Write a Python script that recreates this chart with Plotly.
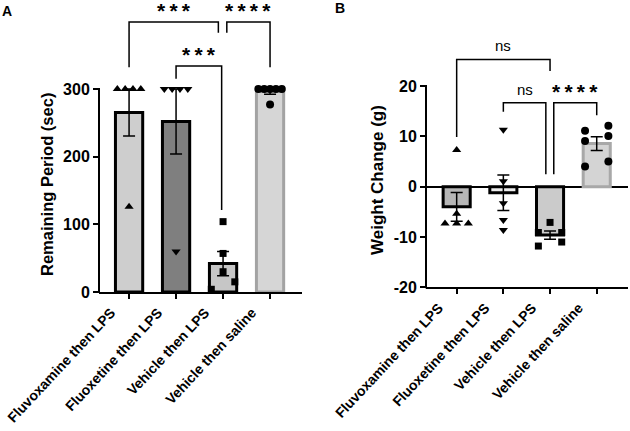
import numpy as np
import plotly.graph_objects as go

# ---------------- data ----------------
categories = ["Fluvoxamine then LPS", "Fluoxetine then LPS",
              "Vehicle then LPS", "Vehicle then saline"]

remaining_fluvoxamine = [300, 300, 300, 300, 126]
remaining_fluoxetine = [300, 300, 300, 300, 60]
remaining_vehicle_lps = [104, 57, 30, 15, 4]
remaining_vehicle_saline = [300, 300, 300, 300, 300, 277]

weight_fluvoxamine = [7.3, -5.4, -7.3, -7.3, -7.3]
weight_fluoxetine = [11.3, 1.1, -3.3, -6.6, -8.6]
weight_vehicle_lps = [-7.1, -9.1, -9.1, -11.8, -11.0]
weight_vehicle_saline = [11.1, 12.1, 9.1, 10.1, 4.0, 5.0]

yticks_A = [0, 100, 200, 300]
yticks_B = [-20, -10, 0, 10, 20]

# significance comparisons: (left cat, right cat, label)
sig_A = [(0, 2, "***"), (1, 2, "***"), (2, 3, "****")]
sig_B = [(0, 2, "ns"), (1, 2, "ns"), (2, 3, "****")]

# ---------------- styles / geometry ----------------
W, H = 630, 431
FONT = "Liberation Sans, Arial, sans-serif"
symbols = ["triangle-up", "triangle-down", "square", "circle"]
msizes = [8, 8, 7, 8]
fill_A = ["#cecece", "#7f7f7f", "#c6c6c6", "#d6d6d6"]
line_A = ["#000000", "#000000", "#000000", "#a3a3a3"]
fill_B = ["#b6b6b6", "#ececec", "#cbcbcb", "#d4d4d4"]
line_B = ["#000000", "#000000", "#000000", "#a8a8a8"]

# pixel boxes of the plot areas
A_x0, A_x1, A_ytop, A_ybot = 99, 302, 0, 292.0
B_x0, B_x1, B_ytop, B_ybot = 426, 628, 0, 287.3
A_yrange = [0, (A_ybot - A_ytop) / (203 / 300)]
B_yrange = [-20, -20 + (B_ybot - B_ytop) / (100.6 / 20)]
A_xrange = [-0.64, 3.68]
B_xrange = [-0.657, 3.67]

# bracket geometry: (x_left, x_right, y_top, y_left_end, y_right_end)
br_A = [(0, 1.90, 399, 332, 383), (1, 1.97, 334, 315, 121), (2.08, 3, 399, 383, 332)]
br_B = [(0, 2.0, 25.3, 9.9, 23.0), (1, 1.91, 16.7, 14.9, 2.5), (2.08, 3, 16.7, 2.5, 14.2)]


def px_x(p):
    return p / W


def px_y(p):
    return 1 - p / H


def swarm(values, center, ppu, thr_px=8.5, span=0.5):
    v = np.asarray(values, float)
    order = np.argsort(v, kind="stable")
    xs = np.full(len(v), float(center))
    groups, cur = [], []
    for idx in order:
        if cur and (v[idx] - v[cur[0]]) * ppu > thr_px:
            groups.append(cur)
            cur = []
        cur.append(idx)
    groups.append(cur)
    for g in groups:
        n = len(g)
        offs = np.linspace(-span / 2, span / 2, n) if n > 1 else [0.0]
        for k, idx in enumerate(g):
            xs[idx] = center + offs[k]
    return xs


fig = go.Figure()


def add_panel(groups, fills, lines, xa, ya, ppu):
    for i, vals in enumerate(groups):
        arr = np.asarray(vals, float)
        mean = arr.mean()
        sem = arr.std(ddof=1) / np.sqrt(len(arr))
        fig.add_trace(go.Bar(
            x=[i], y=[mean], width=0.58, xaxis=xa, yaxis=ya,
            marker=dict(color=fills[i], line=dict(color=lines[i], width=3)),
            error_y=dict(type="data", array=[sem], color="black", thickness=1.5, width=6),
            showlegend=False, hoverinfo="skip"))
    for i, vals in enumerate(groups):
        xs = swarm(vals, i, ppu)
        fig.add_trace(go.Scatter(
            x=xs, y=vals, mode="markers", xaxis=xa, yaxis=ya, cliponaxis=False,
            marker=dict(symbol=symbols[i], size=msizes[i], color="black"),
            showlegend=False, hoverinfo="skip"))


ppu_A = (A_ybot - A_ytop) / (A_yrange[1] - A_yrange[0])
ppu_B = (B_ybot - B_ytop) / (B_yrange[1] - B_yrange[0])

add_panel([remaining_fluvoxamine, remaining_fluoxetine, remaining_vehicle_lps,
           remaining_vehicle_saline], fill_A, line_A, "x", "y", ppu_A)
add_panel([weight_fluvoxamine, weight_fluoxetine, weight_vehicle_lps,
           weight_vehicle_saline], fill_B, line_B, "x2", "y2", ppu_B)

shapes = []
annos = []


def add_brackets(brs, sigs, xr, yr):
    for (xl, xr_, yt, yle, yre), (_, _, lab) in zip(brs, sigs):
        shapes.append(dict(type="path", xref=xr, yref=yr,
                           path=f"M {xl},{yle} L {xl},{yt} L {xr_},{yt} L {xr_},{yre}",
                           line=dict(color="black", width=1.5)))
        is_star = "*" in lab
        text = "<b>" + "\u2009".join(lab) + "</b>" if is_star else lab
        annos.append(dict(x=(xl + xr_) / 2, y=yt, xref=xr, yref=yr, text=text,
                          showarrow=False, xanchor="center", yanchor="bottom",
                          yshift=(-2 if is_star else 3),
                          font=dict(size=(21 if is_star else 15), color="black", family=FONT)))


add_brackets(br_A, sig_A, "x", "y")
add_brackets(br_B, sig_B, "x2", "y2")


# y-axis lines limited to the tick span
def val_to_px(v, ytop, ybot, yr):
    return ybot - (v - yr[0]) / (yr[1] - yr[0]) * (ybot - ytop)


for x0, ticks, ytop, ybot, yr in [(A_x0, yticks_A, A_ytop, A_ybot, A_yrange),
                                  (B_x0, yticks_B, B_ytop, B_ybot, B_yrange)]:
    shapes.append(dict(type="line", xref="paper", yref="paper",
                       x0=px_x(x0), x1=px_x(x0),
                       y0=px_y(val_to_px(ticks[0], ytop, ybot, yr) + 1),
                       y1=px_y(val_to_px(ticks[-1], ytop, ybot, yr) - 1),
                       line=dict(color="black", width=2)))

# axis titles and panel letters
def label(x, y, text, size, angle=0):
    annos.append(dict(x=px_x(x), y=px_y(y), xref="paper", yref="paper", text=text,
                      textangle=angle, showarrow=False, xanchor="center", yanchor="middle",
                      font=dict(size=size, family=FONT, color="black")))


label(47, 185, "<b>Remaining Period (sec)</b>", 16.5, -90)
label(377, 180, "<b>Weight Change (g)</b>", 17, -90)
label(7, 11, "<b>A</b>", 14)
label(340, 8, "<b>B</b>", 14)

xtickfont = dict(size=14, family=FONT, color="black", weight="bold")
ytickfont = dict(size=16, family=FONT, color="black", weight="bold")
xcommon = dict(tickmode="array", tickvals=list(range(len(categories))), ticktext=categories,
               tickangle=-47, tickfont=xtickfont, showline=True, linecolor="black", linewidth=2,
               ticks="outside", ticklen=5, tickwidth=2, tickcolor="black", ticklabelshift=-18,
               ticklabeloverflow="allow",
               showgrid=False, zeroline=False, automargin=False, fixedrange=True)
ycommon = dict(tickfont=ytickfont, showline=False, ticks="outside", ticklen=5, tickwidth=2,
               tickcolor="black", showgrid=False, automargin=False, tickmode="array",
               fixedrange=True)

fig.update_layout(
    width=W, height=H, margin=dict(l=0, r=0, t=0, b=0),
    paper_bgcolor="white", plot_bgcolor="rgba(0,0,0,0)",
    font=dict(family=FONT, color="black"), showlegend=False, barmode="overlay",
    xaxis=dict(domain=[px_x(A_x0), px_x(A_x1)], range=A_xrange, anchor="y", **xcommon),
    xaxis2=dict(domain=[px_x(B_x0), px_x(B_x1)], range=B_xrange, anchor="y2", **xcommon),
    yaxis=dict(domain=[px_y(A_ybot), px_y(A_ytop)], range=A_yrange, anchor="x", tickvals=yticks_A,
               ticktext=[str(t) for t in yticks_A], zeroline=False, **ycommon),
    yaxis2=dict(domain=[px_y(B_ybot), px_y(B_ytop)], range=B_yrange, anchor="x2", tickvals=yticks_B,
                ticktext=[str(t) for t in yticks_B],
                zeroline=True, zerolinecolor="black", zerolinewidth=2, **ycommon),
    shapes=shapes, annotations=annos,
)

fig.write_html("out.html",
               config={"displayModeBar": False, "staticPlot": True},
               post_script="document.body.style.margin='0px';"
                           "document.documentElement.style.overflow='hidden';")
